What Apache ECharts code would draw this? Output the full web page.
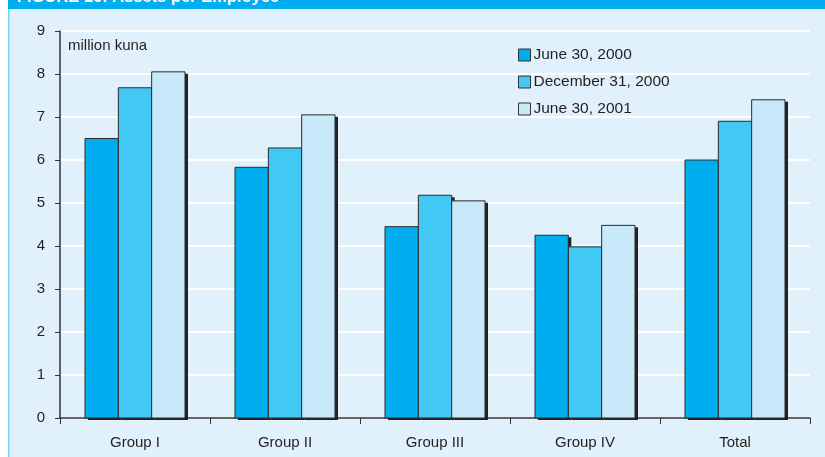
<!DOCTYPE html>
<html>
<head>
<meta charset="utf-8">
<script src="https://cdn.jsdelivr.net/npm/echarts@6/dist/echarts.min.js"></script>
<style>
html,body{margin:0;padding:0;background:#fff;}
#c{width:825px;height:457px;}
</style>
</head>
<body>
<div id="c"></div>
<script>
const categories = ['Group I', 'Group II', 'Group III', 'Group IV', 'Total'];
const seriesNames = ['June 30, 2000', 'December 31, 2000', 'June 30, 2001'];
const june2000 = [6.5, 5.83, 4.45, 4.25, 6.0];
const dec2000 = [7.68, 6.28, 5.18, 3.98, 6.9];
const june2001 = [8.05, 7.05, 5.05, 4.48, 7.4];
const colors = ['#00AEEF', '#42C8F4', '#C7E9F9'];

const chart = echarts.init(document.getElementById('c'), null, {renderer: 'canvas'});
const font = 'Liberation Sans, Arial, sans-serif';
const dataSets = [june2000, dec2000, june2001];

function makeRender(si) {
  return function (params, api) {
    const idx = api.value(0);
    const val = api.value(1);
    const base = api.coord([idx, 0]);
    const top = api.coord([idx, val]);
    const band = api.size([1, 0])[0];
    const bw = band * 2 / 9;
    const x0 = base[0] - band / 3 + si * bw;
    const h = base[1] - top[1];
    return {
      type: 'group',
      children: [
        {type: 'rect', shape: {x: x0 + 3, y: top[1] + 2, width: bw, height: h},
          style: {fill: '#222'}},
        {type: 'rect', shape: {x: x0, y: top[1], width: bw, height: h},
          style: {fill: colors[si], stroke: '#2b2b2b', lineWidth: 1}}
      ]
    };
  };
}

const option = {
  animation: false,
  backgroundColor: '#fff',
  graphic: [
    {type: 'rect', left: 8, top: 0, shape: {width: 817, height: 457}, style: {fill: '#E0F1FB'}, z: -10},
    {type: 'rect', left: 8, top: 0, shape: {width: 1.5, height: 457}, style: {fill: '#7FD0F3'}, z: -9},
    {type: 'rect', left: 8, top: 0, shape: {width: 817, height: 9}, style: {fill: '#00AEEF'}, z: -9},
    {type: 'text', left: 17, top: -11, style: {text: 'FIGURE 16: Assets per Employee', fill: '#fff', font: 'bold 16.5px ' + font}, z: -8},
    {type: 'text', left: 68, top: 38, style: {text: 'million kuna', fill: '#231F20', font: '15px ' + font}}
  ],
  legend: {
    orient: 'vertical',
    left: 513,
    top: 42,
    itemWidth: 12,
    itemHeight: 12,
    itemGap: 11,
    icon: 'rect',
    textStyle: {fontFamily: font, fontSize: 15.5, color: '#231F20', padding: [0, 0, 0, -2]},
    itemStyle: {borderColor: '#333', borderWidth: 1},
    data: seriesNames
  },
  grid: {left: 60, right: 15, top: 31, bottom: 39},
  xAxis: {
    type: 'category',
    data: categories,
    axisLine: {lineStyle: {color: '#333', width: 1.5}},
    axisTick: {show: true, length: 6, lineStyle: {color: '#333'}},
    axisLabel: {fontFamily: font, fontSize: 15, color: '#231F20', margin: 17}
  },
  yAxis: {
    type: 'value',
    min: 0,
    max: 9,
    interval: 1,
    axisLine: {show: true, lineStyle: {color: '#333', width: 1.5}},
    axisTick: {show: true, length: 5, lineStyle: {color: '#333'}},
    axisLabel: {fontFamily: font, fontSize: 15, color: '#231F20', margin: 15},
    splitLine: {show: true, lineStyle: {color: '#ffffff', width: 2}}
  },
  series: seriesNames.map((n, i) => ({
    name: n,
    type: 'custom',
    renderItem: makeRender(i),
    encode: {x: 0, y: 1},
    itemStyle: {color: colors[i], borderColor: '#333', borderWidth: 1},
    data: dataSets[i].map((v, k) => [k, v])
  }))
};
chart.setOption(option);
</script>
</body>
</html>
